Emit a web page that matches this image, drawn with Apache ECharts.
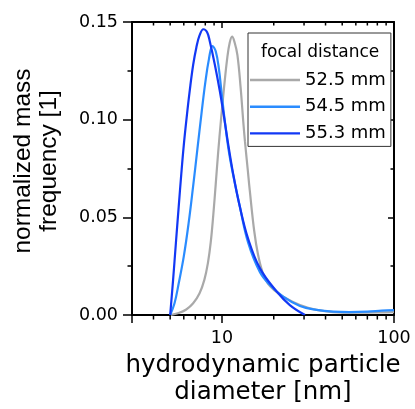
<!DOCTYPE html>
<html>
<head>
<meta charset="utf-8">
<script src="https://cdn.jsdelivr.net/npm/echarts@6/dist/echarts.min.js"></script>
<style>
  html, body { margin: 0; padding: 0; background: #fff; }
  #chart { width: 415px; height: 409px; }
</style>
</head>
<body>
<div id="chart"></div>
<script>
// Size distributions measured at three focal distances
const seriesNames = ['52.5 mm', '54.5 mm', '55.3 mm'];

const diam525 = [5.0, 5.6, 6.2, 6.8, 7.4, 7.9, 8.3, 8.6, 8.9, 9.2, 9.5, 9.85, 10.3, 10.75, 11.1, 11.45, 11.85, 12.3, 12.85, 13.3, 13.6, 14.1, 14.5, 15.4, 16.2, 17.2, 18.5, 20.5, 22.7, 28.4, 35.5, 44.3, 60, 80, 100];
const freq525 = [0, 0.001, 0.0028, 0.006, 0.011, 0.018, 0.027, 0.037, 0.051, 0.067, 0.083, 0.099, 0.117, 0.132, 0.1395, 0.1425, 0.1395, 0.133, 0.116, 0.099, 0.089, 0.075, 0.064, 0.043, 0.031, 0.022, 0.016, 0.0122, 0.0094, 0.0051, 0.0026, 0.0015, 0.0012, 0.0013, 0.0015];

const diam545 = [5.0, 5.3, 5.6, 6.0, 6.4, 6.8, 7.2, 7.6, 8.0, 8.4, 8.8, 9.2, 9.6, 10.0, 10.5, 11.0, 11.6, 12.7, 14.2, 16.6, 19.0, 22.7, 28.4, 35.5, 44.3, 55, 70, 85, 100];
const freq545 = [0, 0.006, 0.016, 0.03, 0.047, 0.066, 0.085, 0.103, 0.119, 0.131, 0.1377, 0.135, 0.126, 0.112, 0.096, 0.083, 0.072, 0.0555, 0.037, 0.022, 0.0154, 0.0094, 0.0046, 0.0026, 0.0017, 0.0015, 0.0017, 0.0022, 0.0025];

const diam553 = [5.0, 5.2, 5.4, 5.6, 5.8, 6.0, 6.25, 6.5, 6.8, 7.1, 7.4, 7.8, 8.2, 8.5, 9.1, 9.7, 10.3, 10.8, 11.6, 12.7, 14.2, 16.6, 20.8, 24.8, 30.4];
const freq553 = [0, 0.018, 0.037, 0.055, 0.072, 0.087, 0.102, 0.115, 0.128, 0.137, 0.143, 0.1463, 0.1448, 0.14, 0.128, 0.115, 0.101, 0.089, 0.0726, 0.0555, 0.039, 0.024, 0.012, 0.0051, 0];

// Axis ranges and tick positions
const xRange = [3, 100];
const yRange = [0, 0.15];
const yStep = 0.05;
const xMinorTicks = [4, 5, 6, 7, 8, 9, 20, 30, 40, 50, 60, 70, 80, 90];

const colors = ['#a9a9a9', '#2a8cff', '#1238f5'];

const zip = (xs, ys) => xs.map((x, i) => [x, ys[i]]);
const curves = [zip(diam525, freq525), zip(diam545, freq545), zip(diam553, freq553)];

const INK = '#000';
const tickFont = { fontFamily: 'DejaVu Sans', fontSize: 17.5, color: INK };

const chart = echarts.init(document.getElementById('chart'), null, { renderer: 'canvas' });

const lineSeries = seriesNames.map((name, i) => ({
  type: 'line',
  name: name,
  data: curves[i],
  xAxisIndex: 0,
  yAxisIndex: 0,
  symbol: 'none',
  smooth: 0.4,
  lineStyle: { color: colors[i], width: 2.2 },
  itemStyle: { color: colors[i] },
  z: 3 + i
}));

// Minor ticks of the logarithmic axes, placed through the x scale
const minorTickSeries = {
  type: 'custom',
  name: 'minor ticks',
  xAxisIndex: 0,
  yAxisIndex: 0,
  silent: true,
  clip: false,
  z: 10,
  data: xMinorTicks.map(v => [v, yRange[0]]),
  encode: { x: 0, y: 1 },
  renderItem: function (params, api) {
    const b = api.coord([api.value(0), yRange[0]]);
    const t = api.coord([api.value(0), yRange[1]]);
    const st = { stroke: INK, lineWidth: 1.5 };
    return {
      type: 'group',
      children: [
        { type: 'line', shape: { x1: b[0], y1: b[1], x2: b[0], y2: b[1] + 4.5 }, style: st },
        { type: 'line', shape: { x1: t[0], y1: t[1], x2: t[0], y2: t[1] + 3.5 }, style: st }
      ]
    };
  }
};

const isDecade = v => Math.abs(Math.log10(v) - Math.round(Math.log10(v))) < 1e-6;

const option = {
  animation: false,
  backgroundColor: '#fff',
  textStyle: { fontFamily: 'DejaVu Sans' },
  title: {
    text: 'focal distance',
    left: 261,
    top: 44,
    padding: 0,
    textStyle: { fontFamily: 'DejaVu Sans', fontSize: 17, fontWeight: 'normal', color: INK }
  },
  legend: {
    data: seriesNames,
    orient: 'vertical',
    left: 248,
    top: 33,
    padding: [37, 5, 3, 2],
    icon: 'rect',
    itemWidth: 50,
    itemHeight: 2.4,
    itemGap: 6.7,
    selectedMode: false,
    borderColor: '#333',
    borderWidth: 1,
    borderRadius: 0,
    backgroundColor: '#fff',
    itemStyle: { borderWidth: 0 },
    textStyle: { fontFamily: 'DejaVu Sans', fontSize: 18, color: INK, lineHeight: 20 }
  },
  grid: { left: 132, top: 22, right: 21, bottom: 94, containLabel: false, outerBoundsMode: 'none' },
  xAxis: [
    {
      type: 'log',
      logBase: 10,
      min: xRange[0],
      max: xRange[1],
      position: 'bottom',
      axisLine: { show: true, onZero: false, lineStyle: { color: INK, width: 2 } },
      axisTick: { show: true, inside: false, length: 8, lineStyle: { color: INK, width: 1.5 } },
      axisLabel: Object.assign({
        show: true,
        margin: 14,
        formatter: v => (isDecade(v) ? String(Math.round(v)) : '')
      }, tickFont),
      splitLine: { show: false },
      name: 'hydrodynamic particle\ndiameter [nm]',
      nameLocation: 'middle',
      nameGap: 37,
      nameTextStyle: { fontFamily: 'DejaVu Sans', fontSize: 24.5, lineHeight: 27, color: INK }
    },
    {
      type: 'log',
      logBase: 10,
      min: xRange[0],
      max: xRange[1],
      position: 'top',
      axisLine: { show: true, onZero: false, lineStyle: { color: INK, width: 2 } },
      axisTick: { show: true, inside: true, length: 6, lineStyle: { color: INK, width: 1.5 } },
      axisLabel: { show: false },
      splitLine: { show: false }
    }
  ],
  yAxis: [
    {
      type: 'value',
      min: yRange[0],
      max: yRange[1],
      interval: yStep,
      position: 'left',
      axisLine: { show: true, onZero: false, lineStyle: { color: INK, width: 2 } },
      axisTick: { show: true, inside: false, length: 9, lineStyle: { color: INK, width: 1.5 } },
      minorTick: { show: true, splitNumber: 2, length: 4.5, lineStyle: { color: INK, width: 1.5 } },
      axisLabel: Object.assign({ margin: 14, formatter: v => v.toFixed(2) }, tickFont),
      splitLine: { show: false },
      minorSplitLine: { show: false },
      name: 'normalized mass\nfrequency [1]',
      nameLocation: 'middle',
      nameGap: 70,
      nameRotate: 90,
      nameTextStyle: { fontFamily: 'Liberation Sans', fontSize: 24.5, lineHeight: 26, color: INK, padding: [0, 0, 0, 15] }
    },
    {
      type: 'value',
      min: yRange[0],
      max: yRange[1],
      interval: yStep,
      position: 'right',
      axisLine: { show: true, onZero: false, lineStyle: { color: INK, width: 2 } },
      axisTick: { show: true, inside: true, length: 6, lineStyle: { color: INK, width: 1.5 } },
      minorTick: { show: true, splitNumber: 2, length: 3.5, lineStyle: { color: INK, width: 1.5 } },
      axisLabel: { show: false },
      splitLine: { show: false },
      minorSplitLine: { show: false }
    }
  ],
  series: lineSeries.concat([minorTickSeries])
};

chart.setOption(option);
</script>
</body>
</html>
